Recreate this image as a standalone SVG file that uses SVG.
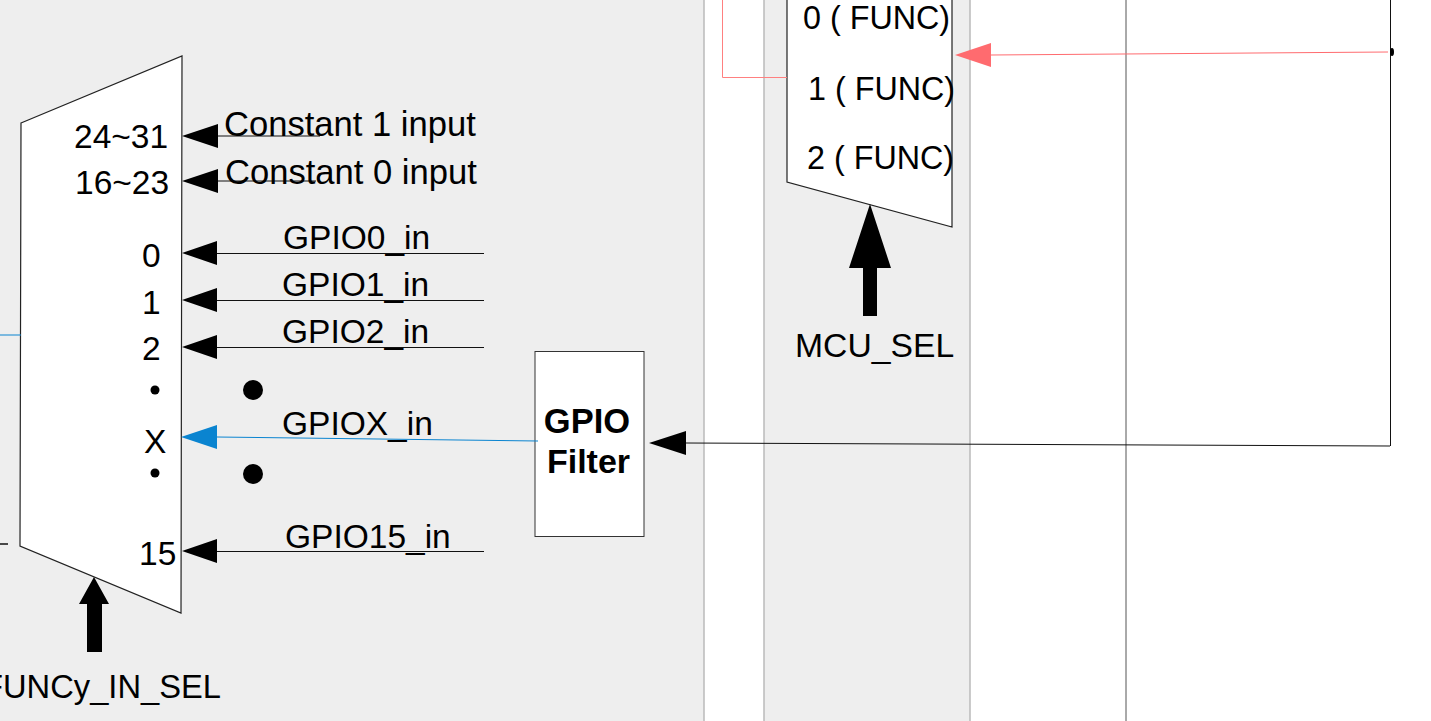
<svg xmlns="http://www.w3.org/2000/svg" width="1431" height="721" viewBox="0 0 1431 721">
<style>
text{font-family:"Liberation Sans",Arial,sans-serif;font-size:33.500px;fill:#000}
.mux{fill:#fff;stroke:#222;stroke-width:1.2}
.bg{fill:#eee}
.sep{stroke:#bbb;stroke-width:1.5;fill:none}
.ln{stroke:#111;stroke-width:1;fill:none}
.head{fill:#000}
</style>
<rect class="bg" x="0" y="0" width="704" height="721"/>
<rect class="bg" x="764" y="0" width="206" height="721"/>
<path class="sep" d="M704 0V721M764 0V721M970 0V721"/>
<g id="mux-in">
<polygon class="mux" points="21,123 182,56 181,613 20,546"/>
<text x="74" y="148">24~31</text>
<text x="75" y="194">16~23</text>
<text x="142" y="267">0</text>
<text x="142" y="314">1</text>
<text x="142" y="360">2</text>
<text x="144" y="453">X</text>
<text x="139" y="565">15</text>
<circle cx="155" cy="390" r="4.500"/>
<circle cx="155" cy="473" r="4.500"/>
</g>
<g id="gpio-filter">
<rect x="535" y="351.500" width="109" height="185" fill="#fff" stroke="#333" stroke-width="1"/>
<text x="587" y="433" text-anchor="middle" style="font-weight:700;font-size:34.500px">GPIO</text>
<text x="588.500" y="473" text-anchor="middle" style="font-weight:700;font-size:34px">Filter</text>
</g>
<g id="mux-mcu">
<polygon class="mux" points="787,-5 952,-5 952,227 787,182"/>
<text x="803" y="29" style="font-size:32.300px">0 ( FUNC)</text>
<text x="808" y="100" style="font-size:32.300px">1 ( FUNC)</text>
<text x="807" y="169" style="font-size:32.300px">2 ( FUNC)</text>
<text x="795" y="357" style="font-size:33.700px">MCU_SEL</text>
</g>
<g id="connectors">
<path d="M1126 0V721" stroke="#555" stroke-width="1" fill="none"/>
<path class="ln" d="M1390.500 0V446"/>
<path d="M0 335H21" stroke="#0a84d0" stroke-width="1" fill="none"/>
<path d="M0 544H8" stroke="#111" stroke-width="1.500" fill="none"/>
<path d="M722.500 0V77.500H787" stroke="#ff8080" stroke-width="1" fill="none"/>
<path class="ln" d="M217 136H320M217 181H316M217 253.500H484M217 300.500H484M217 347.500H484M217 551.500H484M1390 446L686 443"/>
<path d="M217 437L538 441" stroke="#0a84d0" stroke-width="1" fill="none"/>
<path d="M1388 52L991 55" stroke="#ff6b6f" stroke-width="1" fill="none"/>
<polygon class="head" points="182,136 218,124 218,148"/>
<polygon class="head" points="182,181 218,169 218,193"/>
<polygon class="head" points="182,253 217,241 217,265"/>
<polygon class="head" points="182,300 217,288 217,312"/>
<polygon class="head" points="182,347 217,335 217,359"/>
<polygon points="181,437 217,425 217,449" fill="#0a84d0"/>
<polygon class="head" points="182,551 217,539 217,563"/>
<polygon class="head" points="649,443 686,431 686,455"/>
<polygon points="955,55 991,43 991,67" fill="#ff6b6f"/>
<ellipse cx="1392" cy="52" rx="2" ry="4" fill="#000"/>
<polygon class="head" points="94,577 109,604 102,604 102,652 87,652 87,604 79,604"/>
<polygon class="head" points="870,204 891,268 877,268 877,316 863,316 863,268 849,268"/>
</g>
<g id="labels">
<text x="224" y="136" style="font-size:34.600px">Constant 1 input</text>
<text x="225" y="184" style="font-size:34.600px">Constant 0 input</text>
<text x="283" y="249">GPIO0_in</text>
<text x="282" y="296">GPIO1_in</text>
<text x="282" y="343">GPIO2_in</text>
<text x="282" y="435">GPIOX_in</text>
<text x="285" y="548">GPIO15_in</text>
<circle cx="253" cy="390" r="10"/>
<circle cx="253" cy="474" r="10"/>
<text x="221" y="698" text-anchor="end" style="font-size:32.700px">FUNCy_IN_SEL</text>
</g>
</svg>
